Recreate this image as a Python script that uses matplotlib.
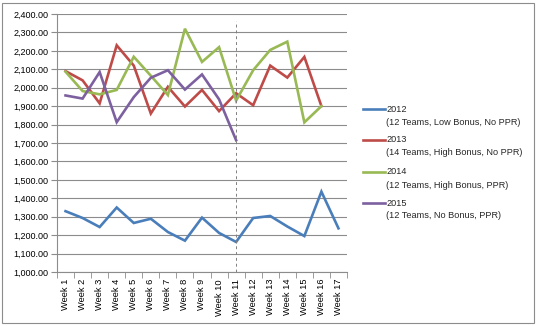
import numpy as np
import matplotlib
matplotlib.use("Agg")
import matplotlib.pyplot as plt
from matplotlib.lines import Line2D
from matplotlib.patches import Rectangle
from matplotlib.ticker import FuncFormatter, MultipleLocator

weeks = [f"Week {i}" for i in range(1, 18)]

s2012 = [1330, 1293, 1244, 1350, 1266, 1289, 1217, 1170, 1295, 1212, 1163,
         1293, 1304, 1247, 1195, 1436, 1237]
s2013 = [2090, 2040, 1915, 2230, 2120, 1860, 2005, 1898, 1988, 1873, 1970,
         1905, 2120, 2055, 2167, 1900]
s2014 = [2087, 1982, 1964, 1988, 2168, 2065, 1960, 2320, 2140, 2220, 1930,
         2095, 2205, 2250, 1812, 1900]
s2015 = [1958, 1941, 2085, 1813, 1949, 2054, 2095, 1990, 2072, 1937, 1715]

names = ["2012", "2013", "2014", "2015"]
notes = ["(12 Teams, Low Bonus, No PPR)", "(14 Teams, High Bonus, No PPR)",
         "(12 Teams, High Bonus, PPR)", "(12 Teams, No Bonus, PPR)"]
colors = ["#4A7EBB", "#BE4B48", "#98B954", "#7D60A0"]
split_week = 11

plt.rcParams["font.family"] = ["Liberation Sans", "DejaVu Sans"]
fig = plt.figure(figsize=(5.37, 3.26), dpi=100)
W, H = 537, 326
ax = fig.add_axes([57 / W, 1 - 272 / H, 290 / W, 258 / H])

x = np.arange(len(weeks))
for vals, c in zip([s2012, s2013, s2014, s2015], colors):
    ax.plot(x[:len(vals)], vals, color=c, lw=1.9, solid_joinstyle="miter")

ax.axvline(split_week - 1, ymin=0, ymax=(2360 - 1000) / 1400,
           color="#808080", lw=0.7, ls=(0, (3, 3)))

ax.set_xlim(-0.5, len(weeks) - 0.5)
ax.set_ylim(1000, 2400)
ax.yaxis.set_major_locator(MultipleLocator(100))
ax.yaxis.set_major_formatter(FuncFormatter(lambda v, p: f"{v:,.2f}"))
ax.grid(axis="y", color="#8c8c8c", lw=0.8)
ax.set_axisbelow(True)
ax.set_xticks(x)
ax.set_xticklabels(weeks, rotation=90)
ax.set_xticks(np.arange(-0.5, len(weeks)), minor=True)
ax.tick_params(axis="x", which="major", length=0, labelsize=6.7, pad=5)
ax.tick_params(axis="x", which="minor", length=4, color="#8c8c8c")
ax.tick_params(axis="y", length=4, color="#8c8c8c", labelsize=6.5, pad=2)
for side in ["top", "right"]:
    ax.spines[side].set_visible(False)
for side in ["left", "bottom"]:
    ax.spines[side].set_color("#8c8c8c")
    ax.spines[side].set_linewidth(0.8)

# legend
leg_y = [109, 140, 172, 203]
for y, n, note, c in zip(leg_y, names, notes, colors):
    fig.add_artist(Line2D([363 / W, 385 / W], [1 - y / H, 1 - y / H],
                          color=c, lw=1.9))
    fig.text(386 / W, 1 - y / H, n, fontsize=6.6, va="center", ha="left",
             color="#262626")
    fig.text(386 / W, 1 - (y + 13) / H, note, fontsize=6.6, va="center",
             ha="left", color="#262626")

fig.add_artist(Rectangle((2 / W, 3 / H), 532 / W, 320 / H, fill=False,
                         edgecolor="#8c8c8c", lw=0.8,
                         transform=fig.transFigure))

fig.savefig("out.png", dpi=100)
